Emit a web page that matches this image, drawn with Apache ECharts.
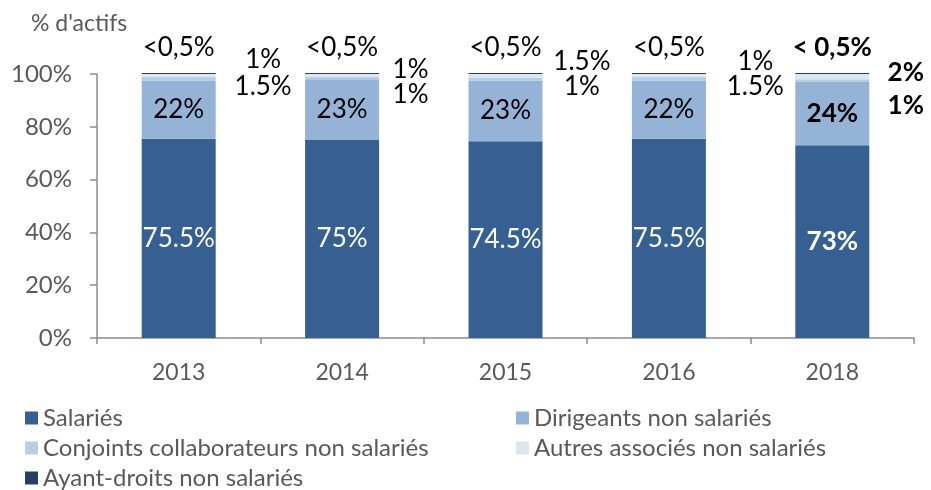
<!DOCTYPE html>
<html lang="fr">
<head>
<meta charset="utf-8" />
<title>% d'actifs</title>
<script src="https://cdn.jsdelivr.net/npm/echarts@6/dist/echarts.min.js"></script>
<style>
  html, body { margin: 0; padding: 0; background: #fff; }
  #main { width: 931px; height: 490px; }
</style>
</head>
<body>
<div id="main"></div>
<script>
// data
var years = ['2013', '2014', '2015', '2016', '2018'];
var salaries = [75.5, 75, 74.5, 75.5, 73];
var dirigeants = [22, 23, 23, 22, 24];
var conjoints = [1.5, 1, 1, 1.5, 1];
var autres = [1, 1, 1.5, 1, 2];
var ayantDroits = [0.4, 0.4, 0.4, 0.4, 0.4];   // shown as "<0,5%"
var ayantLabels = ['<0,5%', '<0,5%', '<0,5%', '<0,5%', '< 0,5%'];
var yTicks = [0, 20, 40, 60, 80, 100];

// the small labels beside the bars are not all placed alike
var sideDx = [6, -10, -2, 8, -5];
var autresDy = [2, 12, 4, 4, 15];
var conjDy = [0, 8, -1, 0, 16];

var FONT = 'Lato';
var GREY = '#595959';
var LAST = years.length - 1;

function items(arr, dy) {
  return arr.map(function (v, i) {
    var lab = {};
    if (i === LAST) lab.fontWeight = 'bold';
    if (dy) lab.offset = [sideDx[i], dy[i]];
    return { value: v, label: lab };
  });
}
function pct(p) { return String(p.value) + '%'; }

var myChart = echarts.init(document.getElementById('main'), null, { renderer: 'canvas' });

var legendStyle = { fontFamily: FONT, fontSize: 24, color: GREY, lineHeight: 24 };

var option = {
  animation: false,
  textStyle: { fontFamily: FONT },
  title: {
    text: "% d'actifs",
    left: 26, top: 7,
    textStyle: { fontFamily: FONT, fontSize: 23, fontWeight: 'normal', color: GREY }
  },
  grid: { left: 97, right: 17, top: 74, bottom: 152 },
  legend: [{
    left: 20, top: 401, height: 100, orient: 'vertical', itemGap: 6,
    icon: 'rect', itemWidth: 13, itemHeight: 13,
    textStyle: legendStyle,
    data: ['Salariés', 'Conjoints collaborateurs non salariés', 'Ayant-droits non salariés']
  }, {
    left: 511, top: 401, height: 100, orient: 'vertical', itemGap: 6,
    icon: 'rect', itemWidth: 13, itemHeight: 13,
    textStyle: legendStyle,
    data: ['Dirigeants non salariés', 'Autres associés non salariés']
  }],
  xAxis: {
    type: 'category',
    data: years,
    axisLine: { lineStyle: { color: '#8c8c8c', width: 1.5 } },
    axisTick: { show: true, length: 6, lineStyle: { color: '#8c8c8c', width: 1.5 } },
    axisLabel: { fontFamily: FONT, fontSize: 23, color: GREY, margin: 23 }
  },
  yAxis: {
    type: 'value',
    min: yTicks[0], max: yTicks[yTicks.length - 1], interval: 20,
    splitLine: { show: false },
    axisLine: { show: true, lineStyle: { color: '#8c8c8c', width: 1.5 } },
    axisTick: { show: true, length: 7, lineStyle: { color: '#8c8c8c', width: 1.5 } },
    axisLabel: { fontFamily: FONT, fontSize: 24, color: GREY, margin: 25, formatter: '{value}%' }
  },
  series: [{
    name: 'Salariés', type: 'bar', stack: 'a', barWidth: 74, clip: false,
    itemStyle: { color: '#376092' },
    label: { show: true, position: 'inside', color: '#fff', fontFamily: FONT, fontSize: 26, formatter: pct },
    data: items(salaries)
  }, {
    name: 'Dirigeants non salariés', type: 'bar', stack: 'a', clip: false,
    itemStyle: { color: '#95b3d7' },
    label: { show: true, position: 'inside', color: '#000', fontFamily: FONT, fontSize: 26, formatter: pct },
    data: items(dirigeants)
  }, {
    name: 'Conjoints collaborateurs non salariés', type: 'bar', stack: 'a', clip: false,
    itemStyle: { color: '#b9cde5' },
    label: {
      show: true, position: ['156%', 10], align: 'center', verticalAlign: 'middle',
      color: '#000', fontFamily: FONT, fontSize: 26, formatter: pct
    },
    data: items(conjoints, conjDy)
  }, {
    name: 'Autres associés non salariés', type: 'bar', stack: 'a', clip: false,
    itemStyle: { color: '#dce6f2' },
    label: {
      show: true, position: ['156%', -16], align: 'center', verticalAlign: 'middle',
      color: '#000', fontFamily: FONT, fontSize: 26, formatter: pct
    },
    data: items(autres, autresDy)
  }, {
    name: 'Ayant-droits non salariés', type: 'bar', stack: 'a', clip: false,
    itemStyle: { color: '#254061' },
    label: {
      show: true, position: 'top', distance: 12,
      color: '#000', fontFamily: FONT, fontSize: 26,
      formatter: function (p) { return ayantLabels[p.dataIndex]; }
    },
    data: items(ayantDroits)
  }]
};

myChart.setOption(option);
</script>
</body>
</html>
